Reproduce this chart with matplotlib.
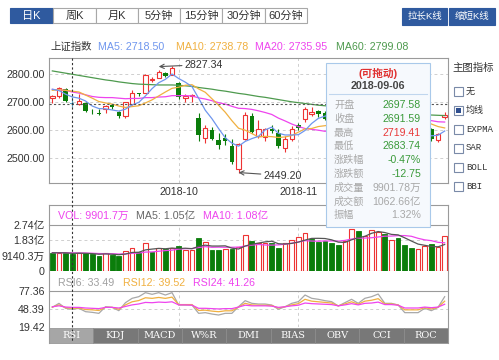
import numpy as np
import pandas as pd
import matplotlib
matplotlib.use("Agg")
import matplotlib.pyplot as plt
from matplotlib.patches import Rectangle
from matplotlib.lines import Line2D

plt.rcParams["font.family"] = ["Liberation Sans", "Noto Sans CJK SC", "DejaVu Sans"]

W, H = 499, 360

# trading days shown (Sep 3 .. Dec 3 2018, minus holidays)
holidays = ["2018-09-24", "2018-10-01", "2018-10-02", "2018-10-03", "2018-10-04", "2018-10-05"]
dates = [d for d in pd.bdate_range("2018-09-03", "2018-12-03") if d.strftime("%Y-%m-%d") not in holidays]

opens = [2716, 2720, 2746, 2697.58, 2695, 2698, 2665, 2662, 2674, 2691,
         2665, 2649, 2693, 2732, 2732, 2780, 2786, 2803, 2795, 2768,
         2713, 2723, 2643, 2572, 2602, 2565, 2573, 2545, 2461, 2567,
         2652, 2580, 2574, 2605, 2590, 2536, 2568, 2617, 2640, 2659,
         2667, 2662, 2654, 2632, 2605, 2619, 2655, 2631, 2668, 2680,
         2691, 2630, 2648, 2637, 2584, 2570, 2571, 2606, 2566, 2647]
highs = [2727, 2752, 2750, 2719.41, 2729, 2702, 2677, 2674, 2688, 2694,
         2668, 2700, 2744, 2734, 2800, 2789, 2815, 2806, 2827.34, 2771,
         2729, 2730, 2660, 2620, 2611, 2590, 2586, 2567, 2554, 2666,
         2662, 2636, 2608, 2620, 2603, 2581, 2614, 2625, 2682, 2683,
         2673, 2670, 2658, 2641, 2630, 2656, 2665, 2668, 2686, 2703,
         2692, 2656, 2657, 2645, 2591, 2584, 2603, 2609, 2590, 2666]
lows = [2696, 2713, 2701, 2683.74, 2691, 2666, 2657, 2653, 2662, 2675,
        2644, 2645, 2690, 2720, 2731, 2773, 2785, 2790, 2795, 2710,
        2700, 2701, 2560, 2556, 2564, 2534, 2548, 2481, 2449.20, 2564,
        2591, 2573, 2560, 2591, 2536, 2523, 2562, 2600, 2630, 2652,
        2646, 2638, 2634, 2597, 2594, 2610, 2628, 2624, 2660, 2673,
        2640, 2614, 2639, 2578, 2566, 2556, 2568, 2562, 2558, 2640]
closes = [2720.73, 2750.58, 2704.34, 2691.59, 2702.30, 2669.48, 2664.80, 2656.11, 2686.58, 2681.64,
          2651.79, 2699.95, 2730.85, 2729.24, 2797.49, 2781.14, 2806.81, 2791.77, 2821.35, 2716.51,
          2721.01, 2725.84, 2583.46, 2606.91, 2568.10, 2546.33, 2561.61, 2486.42, 2550.47, 2654.88,
          2594.83, 2603.30, 2603.80, 2598.85, 2542.10, 2568.05, 2602.78, 2606.24, 2676.48, 2665.43,
          2659.36, 2641.34, 2635.63, 2598.87, 2630.52, 2654.88, 2632.24, 2668.17, 2679.11, 2703.51,
          2645.43, 2651.51, 2645.85, 2579.48, 2575.81, 2574.68, 2601.74, 2567.44, 2588.19, 2654.80]

ma5 = [2746, 2741, 2728, 2718.5, 2714, 2704, 2686, 2677, 2676, 2672,
       2668, 2675, 2690, 2699, 2722, 2748, 2769, 2781, 2800, 2784,
       2771, 2755, 2714, 2671, 2641, 2606, 2573, 2554, 2543, 2560,
       2570, 2578, 2601, 2611, 2589, 2583, 2583, 2584, 2599, 2624,
       2642, 2650, 2656, 2640, 2633, 2632, 2630, 2637, 2653, 2668,
       2666, 2670, 2665, 2645, 2620, 2605, 2596, 2580, 2582, 2597]
ma10 = [2742, 2744, 2742, 2738.78, 2736, 2725, 2714, 2702, 2697, 2693,
        2686, 2681, 2684, 2687, 2697, 2708, 2722, 2736, 2749, 2753,
        2760, 2762, 2747, 2735, 2712, 2689, 2664, 2634, 2607, 2600,
        2588, 2576, 2578, 2577, 2574, 2576, 2581, 2593, 2605, 2606,
        2613, 2616, 2620, 2620, 2628, 2637, 2640, 2646, 2647, 2650,
        2649, 2650, 2651, 2649, 2644, 2636, 2633, 2622, 2613, 2608]
ma20 = [2745, 2743, 2742, 2735.95, 2732, 2726, 2720, 2717, 2716, 2716,
        2714, 2712, 2713, 2713, 2716, 2716, 2718, 2719, 2723, 2723,
        2723, 2722, 2715, 2711, 2705, 2698, 2693, 2685, 2678, 2677,
        2674, 2669, 2663, 2656, 2643, 2633, 2622, 2613, 2606, 2603,
        2600, 2596, 2599, 2598, 2601, 2607, 2610, 2619, 2626, 2628,
        2631, 2633, 2635, 2634, 2636, 2636, 2636, 2634, 2630, 2629]
ma60 = [2811, 2807, 2803, 2799.08, 2795, 2791, 2787, 2783, 2779, 2776,
        2772, 2769, 2766, 2764, 2763, 2762, 2761, 2761, 2761, 2760,
        2758, 2756, 2752, 2749, 2746, 2742, 2739, 2735, 2731, 2728,
        2724, 2720, 2717, 2713, 2709, 2705, 2701, 2698, 2695, 2692,
        2689, 2687, 2685, 2682, 2680, 2678, 2675, 2673, 2671, 2669,
        2667, 2665, 2663, 2661, 2659, 2657, 2655, 2654, 2653, 2652]

# volume in 亿 (1e8)
volumes = [1.09, 1.09, 1.09, 0.99, 1.05, 1.05, 0.99, 0.91, 1.09, 0.95,
           0.91, 1.19, 1.39, 1.15, 1.65, 1.15, 1.39, 1.29, 1.35, 1.51,
           1.25, 1.25, 1.98, 1.71, 1.25, 1.25, 1.31, 1.29, 1.45, 2.14,
           1.79, 1.65, 1.65, 1.65, 1.39, 1.69, 1.85, 2.04, 2.24, 1.90,
           1.71, 1.79, 1.65, 1.55, 1.81, 2.50, 2.40, 2.08, 2.44, 2.34,
           2.20, 1.85, 1.94, 1.55, 1.39, 1.29, 1.49, 1.59, 1.45, 2.08]
vol_up = [0, 1, 0, 0, 1, 0, 0, 0, 1, 0,
          0, 1, 1, 0, 1, 0, 1, 0, 1, 0,
          1, 1, 0, 1, 0, 0, 1, 0, 1, 1,
          0, 1, 1, 0, 0, 1, 1, 1, 1, 0,
          0, 0, 0, 0, 1, 1, 0, 1, 1, 1,
          0, 1, 0, 0, 0, 1, 1, 0, 1, 1]
vol_ma5 = [1.086, 1.084, 1.082, 1.05, 1.062, 1.054, 1.034, 0.998, 1.018, 0.998,
           0.97, 1.01, 1.106, 1.118, 1.258, 1.306, 1.346, 1.326, 1.366, 1.338,
           1.358, 1.33, 1.468, 1.54, 1.488, 1.488, 1.5, 1.362, 1.31, 1.488,
           1.596, 1.664, 1.736, 1.776, 1.626, 1.606, 1.646, 1.724, 1.842, 1.944,
           1.948, 1.936, 1.858, 1.72, 1.702, 1.86, 1.982, 2.068, 2.246, 2.352,
           2.292, 2.182, 2.154, 1.976, 1.786, 1.604, 1.532, 1.462, 1.442, 1.58]
vol_ma10 = [1.093, 1.092, 1.091, 1.08, 1.075, 1.07, 1.059, 1.04, 1.034, 1.03,
            1.012, 1.022, 1.052, 1.068, 1.128, 1.138, 1.178, 1.216, 1.242, 1.298,
            1.332, 1.338, 1.397, 1.453, 1.413, 1.423, 1.415, 1.415, 1.425, 1.488,
            1.542, 1.582, 1.549, 1.543, 1.557, 1.601, 1.655, 1.73, 1.809, 1.785,
            1.777, 1.791, 1.791, 1.781, 1.823, 1.904, 1.959, 1.963, 1.983, 2.027,
            2.076, 2.082, 2.111, 2.111, 2.069, 1.948, 1.857, 1.808, 1.709, 1.683]

rsi6 = [51.1, 57.5, 49.5, 47.9, 49.5, 44.1, 43.0, 41.4, 52.1, 51.1,
        45.7, 58.6, 65.6, 68.2, 74.7, 72.0, 74.7, 70.9, 74.7, 54.8,
        54.8, 54.8, 41.4, 42.5, 40.3, 38.7, 41.4, 41.4, 52.1, 61.8,
        57.5, 56.4, 56.4, 54.8, 47.9, 52.1, 57.5, 60.2, 70.9, 65.6,
        64.0, 61.8, 60.2, 53.2, 58.6, 64.0, 57.5, 65.6, 68.2, 72.5,
        57.5, 57.5, 54.8, 42.5, 42.5, 42.5, 49.5, 45.7, 51.1, 68.2]
rsi12 = [51.5, 55.0, 50.5, 49.5, 50.0, 47.5, 47.0, 46.0, 51.0, 51.0,
         48.0, 55.0, 60.0, 62.0, 66.5, 65.5, 67.0, 65.5, 67.5, 55.5,
         55.5, 55.5, 46.0, 46.5, 45.0, 44.0, 45.5, 45.5, 51.5, 57.5,
         55.0, 54.5, 54.5, 54.0, 50.0, 52.0, 55.0, 57.0, 64.0, 61.0,
         60.0, 59.0, 58.0, 53.5, 56.5, 60.0, 56.0, 61.0, 62.5, 65.0,
         56.5, 56.5, 55.0, 47.0, 47.0, 47.0, 50.5, 48.5, 51.0, 61.0]
rsi24 = [52.0, 53.5, 51.5, 51.0, 51.0, 50.0, 49.5, 49.0, 51.0, 51.0,
         50.0, 52.5, 55.0, 56.5, 59.0, 58.5, 59.5, 59.0, 60.0, 55.0,
         55.0, 54.5, 49.5, 49.5, 49.0, 48.5, 49.0, 49.0, 51.5, 54.5,
         53.5, 53.5, 53.5, 53.0, 51.0, 52.0, 53.5, 54.5, 58.0, 57.0,
         56.5, 56.0, 55.5, 53.5, 55.0, 57.0, 55.0, 57.5, 58.0, 59.5,
         55.5, 55.5, 54.5, 50.0, 50.0, 50.0, 51.5, 50.5, 51.5, 56.0]

cursor = 3
UP = "#ee3333"
DOWN = "#0b7d0b"
HOVER = "#5aa6c8"
C_MA5 = "#6f96ee"
C_MA10 = "#f0b040"
C_MA20 = "#ee44ee"
C_MA60 = "#4e9a4e"
GRID = "#cfcfcf"
FRAME = "#9a9a9a"
TAB_BLUE = "#2f5a9f"
FS = 7.7

fig = plt.figure(figsize=(W / 100, H / 100), dpi=100)
fig.patch.set_facecolor("white")


def px_axes(x0, y0, x1, y1):
    return fig.add_axes([x0 / W, 1 - y1 / H, (x1 - x0) / W, (y1 - y0) / H])


def ftext(x, y, s, **kw):
    kw.setdefault("va", "center")
    kw.setdefault("fontsize", FS)
    return fig.text(x / W, 1 - y / H, s, **kw)


def frect(x0, y0, x1, y1, **kw):
    r = Rectangle((x0 / W, 1 - y1 / H), (x1 - x0) / W, (y1 - y0) / H,
                  transform=fig.transFigure, **kw)
    fig.add_artist(r)
    return r


def fline(xs, ys, **kw):
    fig.add_artist(Line2D([v / W for v in xs], [1 - v / H for v in ys],
                          transform=fig.transFigure, **kw))


def style_axes(ax, spines=("top", "bottom", "left", "right")):
    for side, sp in ax.spines.items():
        sp.set_visible(side in spines)
        sp.set_color(FRAME)
        sp.set_linewidth(0.8)
    ax.set_xticks([])
    ax.tick_params(axis="y", length=0, pad=3, labelsize=FS, labelcolor="#333333")
    ax.set_facecolor("none")


n = len(closes)
x = np.arange(n)
month_starts = [i for i in range(1, n - 5) if dates[i].month != dates[i - 1].month]

# ---- top tabs ----
tabs = ["日K", "周K", "月K", "5分钟", "15分钟", "30分钟", "60分钟"]
tab_x = [10, 53, 96, 138, 180, 222, 265, 307]
for k, lab in enumerate(tabs):
    active = k == 0
    frect(tab_x[k], 8, tab_x[k + 1], 23, facecolor=TAB_BLUE if active else "white",
          edgecolor=TAB_BLUE if active else "#a8a8a8", linewidth=0.8)
    ftext((tab_x[k] + tab_x[k + 1]) / 2, 15.5, lab, ha="center", fontsize=8,
          color="white" if active else "#333333")
for x0, x1, lab in [(402, 447, "拉长K线"), (449, 495, "缩短K线")]:
    frect(x0, 8, x1, 25, facecolor=TAB_BLUE, edgecolor=TAB_BLUE, linewidth=0.8)
    ftext((x0 + x1) / 2, 16.5, lab, ha="center", fontsize=6.8, color="white")

# ---- legend row ----
ftext(50, 47, "上证指数", color="#333333", fontsize=7.5)
ftext(98, 47, f"MA5: {ma5[cursor]:.2f}", color=C_MA5)
ftext(176, 47, f"MA10: {ma10[cursor]:.2f}", color=C_MA10)
ftext(255, 47, f"MA20: {ma20[cursor]:.2f}", color=C_MA20)
ftext(336, 47, f"MA60: {ma60[cursor]:.2f}", color=C_MA60)

# ---- main candle chart ----
ax = px_axes(49, 58, 448, 183)
style_axes(ax)
ax.set_xlim(-0.5, n - 0.5)
ax.set_ylim(2412, 2857)
yt = [2500, 2600, 2700, 2800]
ax.set_yticks(yt)
ax.set_yticklabels([f"{v:.2f}" for v in yt])
for v in yt:
    ax.axhline(v, color=GRID, lw=0.7, ls=(0, (3, 3)), zorder=0)
for i in month_starts:
    ax.axvline(i, color=GRID, lw=0.7, ls=(0, (3, 3)), zorder=0)
    ax.text(i, -0.07, dates[i].strftime("%Y-%m"), transform=ax.get_xaxis_transform(),
            ha="center", va="center", fontsize=FS, color="#333333")

o = np.array(opens); c = np.array(closes); hi = np.array(highs); lo = np.array(lows)
up = c >= o
body_lo = np.minimum(o, c)
body_h = np.maximum(np.abs(c - o), 1.2)
down_col = np.array([HOVER if i == cursor else DOWN for i in range(n)])
ax.bar(x[up], body_h[up], bottom=body_lo[up], width=0.66, facecolor="white",
       edgecolor=UP, linewidth=0.8, zorder=3)
ax.bar(x[~up], body_h[~up], bottom=body_lo[~up], width=0.66, color=down_col[~up],
       linewidth=0.6, zorder=3)
ax.vlines(x[up], (body_lo + body_h)[up], hi[up], color=UP, lw=0.8, zorder=2)
ax.vlines(x[up], lo[up], body_lo[up], color=UP, lw=0.8, zorder=2)
ax.vlines(x[~up], lo[~up], hi[~up], colors=down_col[~up], lw=0.8, zorder=2)

for vals, col in [(ma60, C_MA60), (ma20, C_MA20), (ma10, C_MA10), (ma5, C_MA5)]:
    ax.plot(x, vals, color=col, lw=0.9, zorder=4)

ax.axhline(closes[cursor], color="#555555", lw=0.8, ls=(0, (2, 2)), zorder=5)

ih = int(np.argmax(hi))
il = int(np.argmin(lo))
ax.annotate(f"{hi[ih]:.2f}", xy=(ih - 2, hi[ih] - 1), xytext=(26, 2), textcoords="offset pixels",
            ha="left", va="center", fontsize=FS, color="#333333",
            arrowprops=dict(arrowstyle="->", color="#555555", lw=0.8, shrinkA=0, shrinkB=0))
ax.annotate(f"{lo[il]:.2f}", xy=(il, lo[il]), xytext=(25, -3), textcoords="offset pixels",
            ha="left", va="center", fontsize=FS, color="#333333",
            arrowprops=dict(arrowstyle="->", color="#555555", lw=0.8, shrinkA=0, shrinkB=0))

# ---- lower frame ----
fline([49, 448], [205, 205], color=FRAME, lw=0.8)
fline([49, 49], [205, 343], color=FRAME, lw=0.8)
fline([448, 448], [205, 343], color=FRAME, lw=0.8)

# ---- volume ----
ftext(58, 216, "VOL: 9901.7万", color=C_MA20)
ftext(136, 216, f"MA5: {vol_ma5[cursor]:.2f}亿", color="#666666")
ftext(203, 216, f"MA10: {vol_ma10[cursor]:.2f}亿", color=C_MA20)
axv = px_axes(49, 225, 448, 271)
style_axes(axv, spines=("top",))
axv.set_xlim(-0.5, n - 0.5)
vmax = 2.7421
axv.set_ylim(0, vmax)
axv.set_yticks([0, vmax / 3, vmax * 2 / 3, vmax])
axv.set_yticklabels(["0", "9140.3万", "1.83亿", "2.74亿"])
axv.axhline(vmax * 2 / 3, color=GRID, lw=0.7, ls=(0, (3, 3)), zorder=0)
for i in month_starts:
    axv.axvline(i, color=GRID, lw=0.7, ls=(0, (3, 3)), zorder=0)
vu = np.array(vol_up, dtype=bool)
vv = np.array(volumes)
axv.bar(x[vu], vv[vu], width=0.7, facecolor="white", edgecolor=UP, linewidth=0.8, zorder=2)
axv.bar(x[~vu], vv[~vu], width=0.7, facecolor=DOWN, edgecolor=DOWN, linewidth=0.6, zorder=2)
axv.plot(x, vol_ma10, color=C_MA20, lw=0.9, zorder=3)
axv.plot(x, vol_ma5, color="#555555", lw=0.9, zorder=3)

# ---- RSI ----
ftext(58, 283, "RSI6: 33.49", color="#a0a0a0")
ftext(123, 283, "RSI12: 39.52", color=C_MA10)
ftext(193, 283, "RSI24: 41.26", color=C_MA20)
axr = px_axes(49, 291, 448, 327)
style_axes(axr, spines=("top",))
axr.set_xlim(-0.5, n - 0.5)
axr.set_ylim(19.42, 77.36)
axr.set_yticks([19.42, 48.39, 77.36])
axr.set_yticklabels(["19.42", "48.39", "77.36"])
axr.axhline(48.39, color=GRID, lw=0.7, ls=(0, (3, 3)), zorder=0)
for i in month_starts:
    axr.axvline(i, color=GRID, lw=0.7, ls=(0, (3, 3)), zorder=0)
axr.plot(x, rsi6, color="#a8a8a8", lw=0.9)
axr.plot(x, rsi12, color=C_MA10, lw=0.9)
axr.plot(x, rsi24, color=C_MA20, lw=0.9)

# ---- indicator tab bar ----
ind_tabs = ["RSI", "KDJ", "MACD", "W%R", "DMI", "BIAS", "OBV", "CCI", "ROC"]
tw = (448 - 49) / len(ind_tabs)
for k, lab in enumerate(ind_tabs):
    x0 = 49 + k * tw
    frect(x0, 328, x0 + tw, 343, facecolor="#a6a6a6" if k == 0 else "#787878",
          edgecolor="#8c8c8c", linewidth=0.5)
    ftext(x0 + tw / 2, 335.5, lab, ha="center", fontsize=7, color="white",
          family="DejaVu Serif")

# ---- crosshair ----
cx = 49 + (cursor + 0.5) * (448 - 49) / n
fline([cx, cx], [58, 341], color="#333333", lw=0.8, ls=(0, (2, 2)))

# ---- right panel ----
ftext(452, 68, "主图指标", color="#333333", fontsize=7.5)
for k, lab in enumerate(["无", "均线", "EXPMA", "SAR", "BOLL", "BBI"]):
    yy = 91 + k * 19
    frect(454, yy - 4.5, 463, yy + 4.5, facecolor="white", edgecolor="#7a8aa8", linewidth=0.8)
    if lab == "均线":
        frect(456, yy - 2.5, 461, yy + 2.5, facecolor="#2f4f8f", edgecolor="none")
    ftext(466, yy, lab, color="#333333", fontsize=6.5,
          family=["Liberation Mono", "Noto Sans CJK SC"])

# ---- tooltip ----
frect(326, 63, 430, 227, facecolor="#f6f9fd", edgecolor="#a9c9ea", linewidth=0.8, zorder=10)
ftext(378, 73, "(可拖动)", ha="center", color="#e03030", fontsize=7.7, weight="bold", zorder=11)
ftext(378, 86, dates[cursor].strftime("%Y-%m-%d"), ha="center", color="#444444",
      fontsize=7.7, weight="bold", zorder=11)
fline([329, 427], [94, 94], color="#c0d6ee", lw=0.8, zorder=11)
tip_labels = ["开盘", "收盘", "最高", "最低", "涨跌幅", "涨跌额", "成交量", "成交额", "振幅"]
tip_values = [f"{opens[cursor]:.2f}", f"{closes[cursor]:.2f}", f"{highs[cursor]:.2f}",
              f"{lows[cursor]:.2f}", "-0.47%", "-12.75", "9901.78万", "1062.66亿", "1.32%"]
tip_colors = ["#3a9a3a", "#3a9a3a", "#e83a3a", "#3a9a3a", "#3a9a3a", "#3a9a3a",
              "#a8a8a8", "#a8a8a8", "#a8a8a8"]
for k, (lab, val, col) in enumerate(zip(tip_labels, tip_values, tip_colors)):
    yy = 105 + k * 13.8
    ftext(334, yy, lab, color="#a8a8a8", fontsize=7.3, zorder=11)
    ftext(421, yy, val, ha="right", color=col, fontsize=7.6, zorder=11)

fig.savefig("out.png", dpi=100, facecolor="white")
